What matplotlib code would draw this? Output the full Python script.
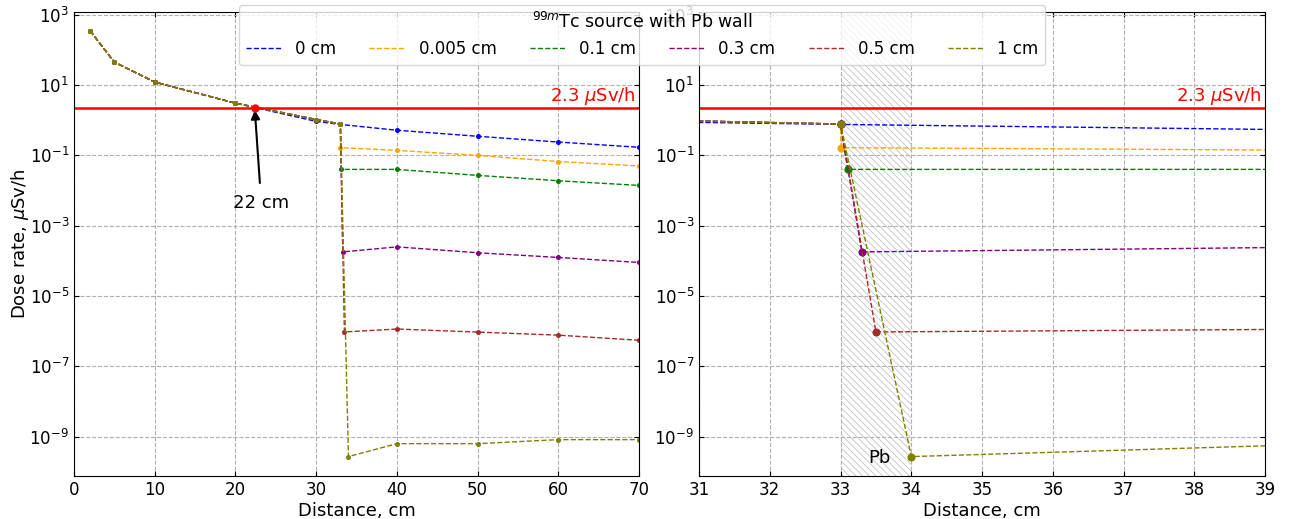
import numpy as np
import matplotlib
matplotlib.use("Agg")
import matplotlib.pyplot as plt
from matplotlib.lines import Line2D
from matplotlib.patches import Rectangle

# ---- data ----
labels = ["0 cm", "0.005 cm", "0.1 cm", "0.3 cm", "0.5 cm", "1 cm"]
colors = ["blue", "orange", "green", "purple", "brown", "olive"]
thick = [0.0, 0.005, 0.1, 0.3, 0.5, 1.0]

x_before = [2, 5, 10, 20, 30, 33]
y_before_open = [350, 45, 12.2, 3.06, 0.93, 0.76]
y_before_wall = [350, 45, 12.2, 3.06, 1.05, 0.78]

x_after = [40, 50, 60, 70]
y_behind = [None, 0.166, 0.040, 1.8e-4, 9.5e-7, 2.7e-10]
y_after = [
    [0.52, 0.35, 0.24, 0.17],
    [0.139, 0.10, 0.067, 0.050],
    [0.040, 0.027, 0.019, 0.014],
    [2.5e-4, 1.7e-4, 1.25e-4, 9.0e-5],
    [1.15e-6, 9.4e-7, 7.7e-7, 5.5e-7],
    [6.3e-10, 6.3e-10, 8.2e-10, 8.2e-10],
]

limit = 2.3
cross_x = 22.4
wall_x = [33, 34]

plt.rcParams["hatch.linewidth"] = 0.5

fig = plt.figure(figsize=(12.96, 5.19), dpi=100)
axL = fig.add_axes([0.0571, 0.0829, 0.436, 0.894])
axR = fig.add_axes([0.5394, 0.0829, 0.4367, 0.894])

def series(i):
    if thick[i] == 0:
        xs = x_before + x_after
        ys = y_before_open + y_after[i]
    else:
        xs = x_before + [33 + thick[i]] + x_after
        ys = y_before_wall + [y_behind[i]] + y_after[i]
    return xs, ys

for ax, ms in ((axL, 2.6), (axR, 4.8)):
    for i in range(len(labels)):
        xs, ys = series(i)
        ax.plot(xs, ys, ls="--", color=colors[i], marker="o", ms=ms, lw=1.0)
    ax.axhline(limit, color="red", lw=1.8)
    ax.set_yscale("log")
    ax.set_ylim(10**-10.12, 10**3.08)
    ax.set_yticks([1e3, 1e1, 1e-1, 1e-3, 1e-5, 1e-7, 1e-9])
    ax.minorticks_off()
    ax.grid(True, ls="--", color="#b0b0b0", lw=0.8)
    ax.tick_params(direction="in", top=True, right=True, labelsize=12)
    ax.text(0.995, 0.795, "2.3 $\\mu$Sv/h", color="red", fontsize=13,
            ha="right", va="bottom", transform=ax.transAxes)
    ax.set_xlabel("Distance, cm", fontsize=13, labelpad=2)

axL.set_xlim(0, 70)
axL.set_ylabel("Dose rate, $\\mu$Sv/h", fontsize=13, labelpad=-1)
axL.plot([cross_x], [limit], "o", color="red", ms=5, zorder=5)
axL.annotate("22 cm", xy=(cross_x, limit * 0.85), xytext=(23.2, 4.4e-3),
             fontsize=13, ha="center", va="center",
             arrowprops=dict(arrowstyle="-|>", color="black", lw=1.5,
                             shrinkA=6, shrinkB=0))

axR.set_xlim(31, 39)
axR.add_patch(Rectangle((wall_x[0], 1e-12), wall_x[1] - wall_x[0], 1e5,
                        facecolor="none", edgecolor="#b8b8b8", hatch="\\\\\\\\\\",
                        lw=0.0, zorder=0))
axR.text(33.55, 2.5e-10, "Pb", fontsize=13, ha="center", va="center")

handles = [Line2D([], [], ls="--", color=c, lw=1.0) for c in colors]
fig.legend(handles, labels, loc="upper center", bbox_to_anchor=(0.4955, 0.990),
           borderaxespad=0.0,
           ncol=6, fontsize=12, title="$^{99m}$Tc source with Pb wall",
           title_fontsize=12.5, framealpha=0.8, columnspacing=2.0,
           handlelength=2.1, handletextpad=0.85, borderpad=0.4)

fig.savefig("out.png", dpi=100)
